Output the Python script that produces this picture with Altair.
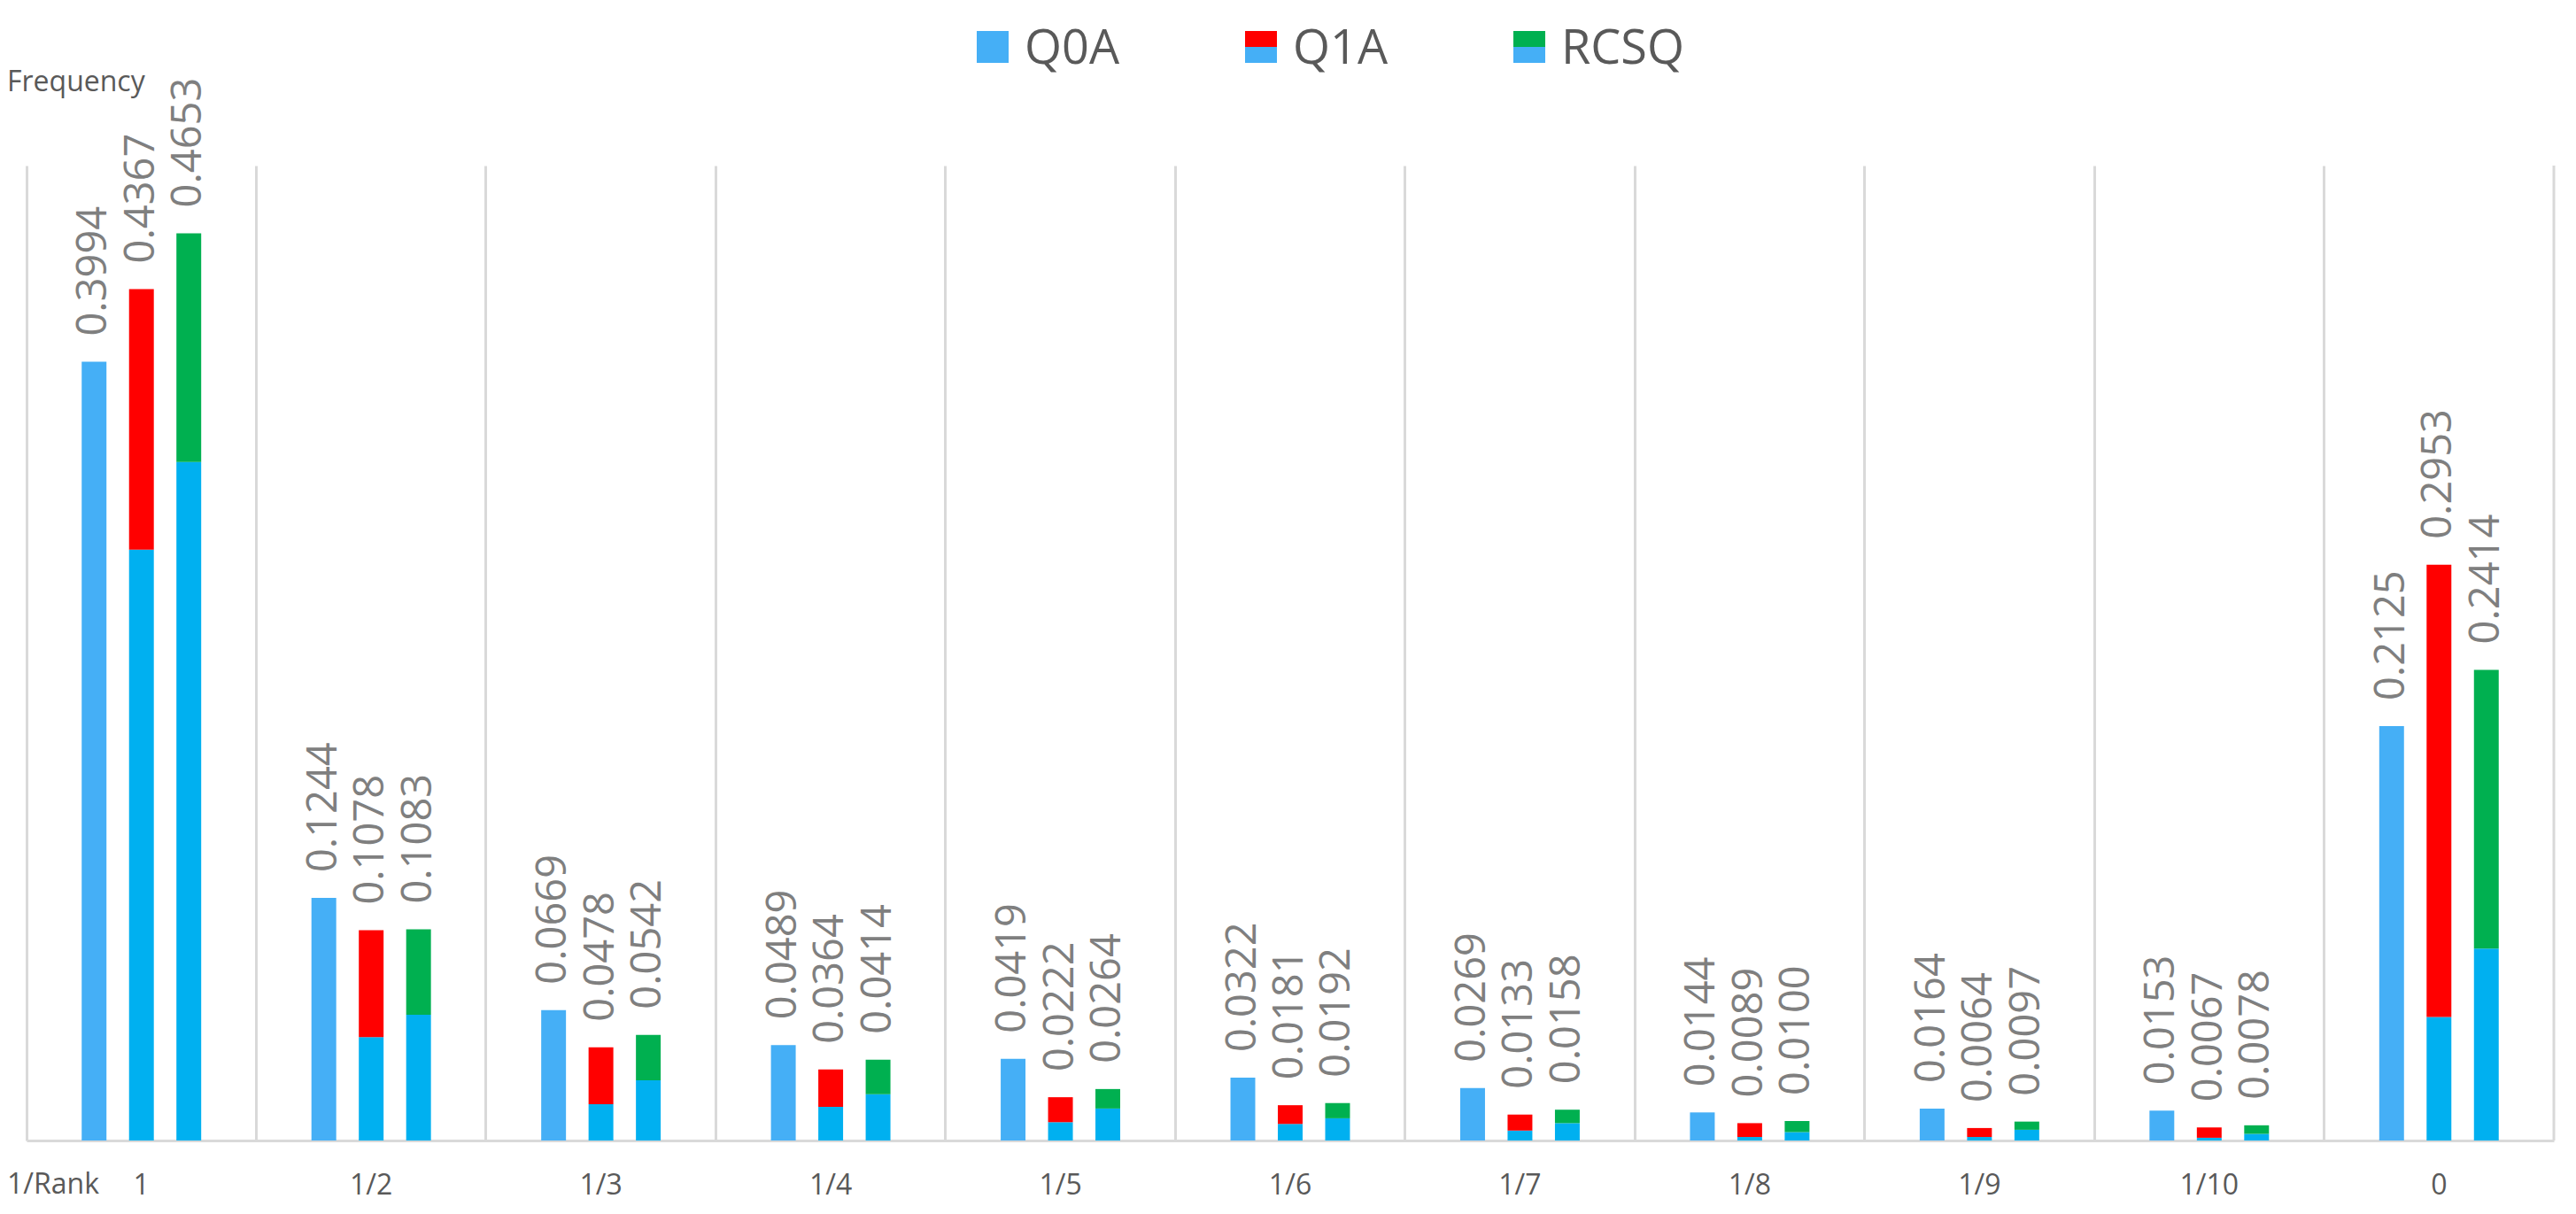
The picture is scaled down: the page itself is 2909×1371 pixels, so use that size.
import altair as alt
import pandas as pd

# ---- data ----
categories = ["1", "1/2", "1/3", "1/4", "1/5", "1/6", "1/7", "1/8", "1/9", "1/10", "0"]
series = ["Q0A", "Q1A", "RCSQ"]
q0a_total = [0.3994, 0.1244, 0.0669, 0.0489, 0.0419, 0.0322, 0.0269, 0.0144, 0.0164, 0.0153, 0.2125]
q1a_total = [0.4367, 0.1078, 0.0478, 0.0364, 0.0222, 0.0181, 0.0133, 0.0089, 0.0064, 0.0067, 0.2953]
rcsq_total = [0.4653, 0.1083, 0.0542, 0.0414, 0.0264, 0.0192, 0.0158, 0.0100, 0.0097, 0.0078, 0.2414]
# blue lower part of the stacked bars (estimated)
q1a_base = [0.303, 0.053, 0.0186, 0.0173, 0.0094, 0.0085, 0.0051, 0.0018, 0.0018, 0.0014, 0.0633]
rcsq_base = [0.348, 0.0645, 0.0309, 0.0237, 0.0164, 0.0114, 0.0089, 0.0043, 0.0055, 0.0034, 0.0984]

# ---- styles ----
C_Q0A = "#45AFF6"
C_BASE = "#00B0F0"
C_RED = "#FF0000"
C_GREEN = "#00B050"
GRID = "#D9D9D9"
TXT = "#595959"
LBL = "#7F7F7F"
FONT = "Open Sans"
W, H = 2854, 1101

rows = []
for i, c in enumerate(categories):
    rows.append(dict(cat=c, series="Q0A", seg="Q0A", lo=0.0, hi=q0a_total[i]))
    rows.append(dict(cat=c, series="Q1A", seg="base", lo=0.0, hi=q1a_base[i]))
    rows.append(dict(cat=c, series="Q1A", seg="Q1A", lo=q1a_base[i], hi=q1a_total[i]))
    rows.append(dict(cat=c, series="RCSQ", seg="base", lo=0.0, hi=rcsq_base[i]))
    rows.append(dict(cat=c, series="RCSQ", seg="RCSQ", lo=rcsq_base[i], hi=rcsq_total[i]))
bars_df = pd.DataFrame(rows)

lab_rows = []
for i, c in enumerate(categories):
    lab_rows.append(dict(cat=c, series="Q0A", total=q0a_total[i]))
    lab_rows.append(dict(cat=c, series="Q1A", total=q1a_total[i]))
    lab_rows.append(dict(cat=c, series="RCSQ", total=rcsq_total[i]))
labels_df = pd.DataFrame(lab_rows)

# empty slots on both sides of the three bars give the wide outer gap
offset_domain = ["_l"] + series + ["_r"]
x_scale = alt.Scale(domain=categories, paddingInner=0, paddingOuter=0)
xo_scale = alt.Scale(domain=offset_domain, paddingInner=0.477, paddingOuter=0.164)
y_scale = alt.Scale(domain=[0, 0.5], nice=False, zero=True)
col_scale = alt.Scale(domain=["Q0A", "base", "Q1A", "RCSQ"],
                      range=[C_Q0A, C_BASE, C_RED, C_GREEN])

x_axis = alt.Axis(
    title=None, bandPosition=0,
    grid=True, gridColor=GRID, gridWidth=3,
    labelFont=FONT, labelFontSize=32, labelColor=TXT, labelPadding=35,
    labelAngle=0, ticks=False, tickSize=0,
    domainColor=GRID, domainWidth=3,
)

bars = alt.Chart(bars_df).mark_bar().encode(
    x=alt.X("cat:N", scale=x_scale, sort=categories, axis=x_axis),
    xOffset=alt.XOffset("series:N", scale=xo_scale),
    y=alt.Y("lo:Q", scale=y_scale, axis=None),
    y2="hi:Q",
    color=alt.Color("seg:N", scale=col_scale, legend=None),
)

labels = alt.Chart(labels_df).mark_text(
    angle=270, align="left", baseline="middle", dx=29,
    fontSize=47, font=FONT, color=LBL
).encode(
    x=alt.X("cat:N", scale=x_scale, sort=categories, axis=x_axis),
    xOffset=alt.XOffset("series:N", scale=xo_scale),
    y=alt.Y("total:Q", scale=y_scale, axis=None),
    text=alt.Text("total:Q", format=".4f"),
)

one = pd.DataFrame({"k": [0]})
right_line = alt.Chart(one).mark_rule(color=GRID, strokeWidth=3).encode(
    x=alt.value(W), y=alt.value(0), y2=alt.value(H)
)

rank_text = alt.Chart(one).mark_text(
    text="1/Rank", align="left", baseline="alphabetic", fontSize=32, font=FONT, color=TXT
).encode(x=alt.value(-22), y=alt.value(H + 60))

freq_text = alt.Chart(one).mark_text(
    text="Frequency", align="left", baseline="alphabetic", fontSize=32, font=FONT, color=TXT
).encode(x=alt.value(-22), y=alt.value(-84))

# ---- custom legend (split swatches for stacked series) ----
legend_layers = []
LX0, LSTEP, SQ, LTOP = 1073, 303, 36, -152
top_colors = [C_Q0A, C_RED, C_GREEN]
for i, name in enumerate(series):
    x0 = LX0 + LSTEP * i
    legend_layers.append(
        alt.Chart(one).mark_rect(color=C_Q0A).encode(
            x=alt.value(x0), x2=alt.value(x0 + SQ),
            y=alt.value(LTOP), y2=alt.value(LTOP + SQ))
    )
    if i > 0:
        legend_layers.append(
            alt.Chart(one).mark_rect(color=top_colors[i]).encode(
                x=alt.value(x0), x2=alt.value(x0 + SQ),
                y=alt.value(LTOP), y2=alt.value(LTOP + SQ / 2))
        )
    legend_layers.append(
        alt.Chart(one).mark_text(
            text=name, align="left", baseline="alphabetic", fontSize=54, font=FONT, color=TXT
        ).encode(x=alt.value(x0 + 54), y=alt.value(LTOP + 37))
    )

chart = alt.layer(
    bars, labels, right_line, rank_text, freq_text, *legend_layers
).properties(
    width=W, height=H,
    autosize=alt.AutoSizeParams(type="none"),
    padding={"left": 22, "top": 179, "right": 10, "bottom": 70},
).configure_view(
    stroke=None
)

chart.save("out.html", embed_options={"renderer": "svg", "actions": False})
